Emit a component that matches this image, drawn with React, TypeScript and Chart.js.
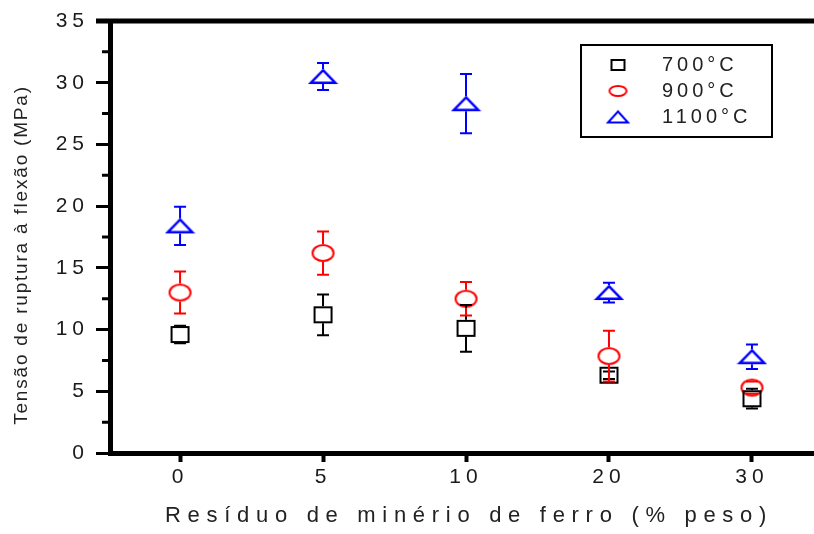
import React, { useEffect, useRef } from "react";
import { Chart, registerables } from "chart.js";

Chart.register(...registerables);

const categories = ["0", "5", "10", "20", "30"];
const seriesLabels = ["700°C", "900°C", "1100°C"];
const seriesColors = ["#000000", "#ff0000", "#0000ff"];
const values700 = [9.6, 11.2, 10.1, 6.3, 4.4];
const errors700 = [0.7, 1.65, 1.9, 0.3, 0.8];
const values900 = [13.0, 16.2, 12.5, 7.85, 5.3];
const errors900 = [1.7, 1.75, 1.35, 2.05, 0.5];
const values1100 = [18.4, 30.5, 28.3, 13.0, 7.8];
const errors1100 = [1.55, 1.1, 2.4, 0.8, 1.0];
const yMin = 0;
const yMax = 35;
const yStep = 5;
const yMinorStep = 2.5;
const xTitle = "Resíduo de minério de ferro (% peso)";
const yTitle = "Tensão de ruptura à flexão (MPa)";

const allValues = [values700, values900, values1100];
const allErrors = [errors700, errors900, errors1100];
const shapes = ["square", "ellipse", "triangle"];

const FONT = "'Liberation Sans', Arial, sans-serif";

function makeMarker(shape: string, color: string, w: number, h: number, lw: number) {
  const c = document.createElement("canvas");
  const W = Math.ceil(w + 4);
  const H = Math.ceil(h + 4);
  c.width = W;
  c.height = H;
  const ctx = c.getContext("2d")!;
  ctx.strokeStyle = color;
  ctx.lineWidth = lw;
  ctx.lineJoin = "miter";
  const cx = W / 2;
  const cy = H / 2;
  ctx.beginPath();
  if (shape === "square") {
    ctx.rect(cx - w / 2 + lw / 2, cy - h / 2 + lw / 2, w - lw, h - lw);
  } else if (shape === "ellipse") {
    ctx.ellipse(cx, cy, (w - lw) / 2, (h - lw) / 2, 0, 0, Math.PI * 2);
  } else {
    ctx.moveTo(cx, cy - h / 2 + lw / 2);
    ctx.lineTo(cx + w / 2 - lw / 2, cy + h / 2 - lw / 2);
    ctx.lineTo(cx - w / 2 + lw / 2, cy + h / 2 - lw / 2);
    ctx.closePath();
  }
  ctx.stroke();
  return c;
}

export default function App() {
  const ref = useRef<HTMLCanvasElement | null>(null);

  useEffect(() => {
    if (!ref.current) return;
    const markerSizes = [
      [19, 17],
      [23, 18],
      [27, 15],
    ];
    const markerLw = [2, 2, 2.4];
    const legendSizes = [
      [15, 12],
      [19, 12],
      [22, 13],
    ];
    const markers = shapes.map((s, i) =>
      makeMarker(s, seriesColors[i], markerSizes[i][0], markerSizes[i][1], markerLw[i])
    );
    const legendMarkers = shapes.map((s, i) =>
      makeMarker(s, seriesColors[i], legendSizes[i][0], legendSizes[i][1], 2)
    );

    const spacingPlugin = {
      id: "spacing",
      beforeDraw(chart: any) {
        (chart.ctx as any).letterSpacing = "5px";
      },
    };

    const errorBarPlugin = {
      id: "errorBars",
      afterDatasetsDraw(chart: any) {
        const ctx = chart.ctx;
        const xs = chart.scales.x;
        const ys = chart.scales.y;
        allValues.forEach((vals, di) => {
          const half = markerSizes[di][1] / 2;
          ctx.save();
          ctx.strokeStyle = seriesColors[di];
          ctx.lineWidth = 2;
          vals.forEach((v, i) => {
            const e = allErrors[di][i];
            const px = xs.getPixelForValue(i);
            const py = ys.getPixelForValue(v);
            const top = ys.getPixelForValue(v + e);
            const bot = ys.getPixelForValue(v - e);
            ctx.beginPath();
            if (py - half > top) {
              ctx.moveTo(px, py - half);
              ctx.lineTo(px, top);
            }
            if (py + half < bot) {
              ctx.moveTo(px, py + half);
              ctx.lineTo(px, bot);
            }
            ctx.moveTo(px - 6, top);
            ctx.lineTo(px + 6, top);
            ctx.moveTo(px - 6, bot);
            ctx.lineTo(px + 6, bot);
            ctx.stroke();
          });
          ctx.restore();
        });
      },
    };

    const decorPlugin = {
      id: "decor",
      afterDraw(chart: any) {
        const ctx = chart.ctx;
        const area = chart.chartArea;
        const xs = chart.scales.x;
        const ys = chart.scales.y;
        ctx.save();
        // top frame line
        ctx.strokeStyle = "#000";
        ctx.lineWidth = 5;
        ctx.beginPath();
        ctx.moveTo(area.left - 14, area.top);
        ctx.lineTo(chart.width, area.top);
        ctx.stroke();
        // minor y ticks
        ctx.lineWidth = 3;
        ctx.beginPath();
        for (let v = yMin + yMinorStep; v < yMax; v += yStep) {
          const py = ys.getPixelForValue(v);
          ctx.moveTo(area.left - 8, py);
          ctx.lineTo(area.left, py);
        }
        ctx.stroke();

        // x title
        ctx.fillStyle = "#222";
        ctx.font = `22px ${FONT}`;
        (ctx as any).letterSpacing = "6.7px";
        ctx.textAlign = "center";
        ctx.textBaseline = "middle";
        const xc = (xs.getPixelForValue(0) + xs.getPixelForValue(categories.length - 1)) / 2;
        ctx.fillText(xTitle, xc + 3, 516);

        // y title
        ctx.save();
        ctx.font = `19px ${FONT}`;
        (ctx as any).letterSpacing = "1.8px";
        const yc = (ys.getPixelForValue(yMin) + ys.getPixelForValue(yMax)) / 2 + 18;
        ctx.translate(22, yc);
        ctx.rotate(-Math.PI / 2);
        ctx.fillText(yTitle, 0, 0);
        ctx.restore();

        // legend
        const bx = 581;
        const by = area.top + 24;
        const bw = 191;
        const bh = 92;
        ctx.fillStyle = "#fff";
        ctx.fillRect(bx, by, bw, bh);
        ctx.strokeStyle = "#000";
        ctx.lineWidth = 2;
        ctx.strokeRect(bx, by, bw, bh);
        ctx.font = `20px ${FONT}`;
        (ctx as any).letterSpacing = "4px";
        ctx.textAlign = "left";
        ctx.textBaseline = "middle";
        ctx.fillStyle = "#222";
        seriesLabels.forEach((lab, i) => {
          const ry = by + 20 + i * 26;
          const m = legendMarkers[i];
          ctx.drawImage(m, bx + 37 - m.width / 2, ry - m.height / 2);
          ctx.fillText(lab, bx + 81, ry);
        });
        ctx.restore();
      },
    };

    const tickFont = { family: FONT, size: 21 };

    const chart = new Chart(ref.current, {
      type: "scatter",
      data: {
        datasets: allValues.map((vals, di) => ({
          label: seriesLabels[di],
          data: vals.map((v, i) => ({ x: i, y: v })),
          pointStyle: markers[di] as any,
          borderColor: seriesColors[di],
          backgroundColor: "transparent",
          showLine: false,
        })),
      },
      options: {
        animation: false,
        responsive: false,
        maintainAspectRatio: false,
        layout: { autoPadding: false, padding: { top: 21, right: 0, bottom: 0, left: 0 } },
        plugins: {
          legend: { display: false },
          tooltip: { enabled: false },
          title: { display: false },
        },
        scales: {
          x: {
            type: "linear",
            min: -0.49,
            max: 4.434,
            afterBuildTicks: (s: any) => {
              s.ticks = categories.map((_, i) => ({ value: i }));
            },
            afterFit: (s: any) => {
              s.height = 81;
              s.paddingLeft = 0;
              s.paddingRight = 0;
            },
            grid: {
              drawOnChartArea: false,
              drawTicks: true,
              tickLength: 9,
              tickWidth: 4,
              tickColor: "#000",
            },
            border: { display: true, color: "#000", width: 5 },
            ticks: {
              callback: (v: any) => categories[v as number] ?? "",
              font: tickFont,
              color: "#1a1a1a",
              padding: 3,
              autoSkip: false,
              maxRotation: 0,
            },
          },
          y: {
            type: "linear",
            min: yMin,
            max: yMax,
            afterFit: (s: any) => {
              s.width = 110;
              s.paddingTop = 0;
              s.paddingBottom = 0;
            },
            grid: {
              drawOnChartArea: false,
              drawTicks: true,
              tickLength: 14,
              tickWidth: 3,
              tickColor: "#000",
            },
            border: { display: true, color: "#000", width: 5 },
            ticks: {
              stepSize: yStep,
              font: tickFont,
              color: "#1a1a1a",
              padding: 7,
            },
          },
        },
      },
      plugins: [spacingPlugin, errorBarPlugin, decorPlugin],
    });

    return () => chart.destroy();
  }, []);

  return (
    <div style={{ position: "absolute", left: 0, top: 0, width: 814, height: 534, background: "#fff" }}>
      <canvas ref={ref} width={814} height={534} style={{ display: "block" }} />
    </div>
  );
}
